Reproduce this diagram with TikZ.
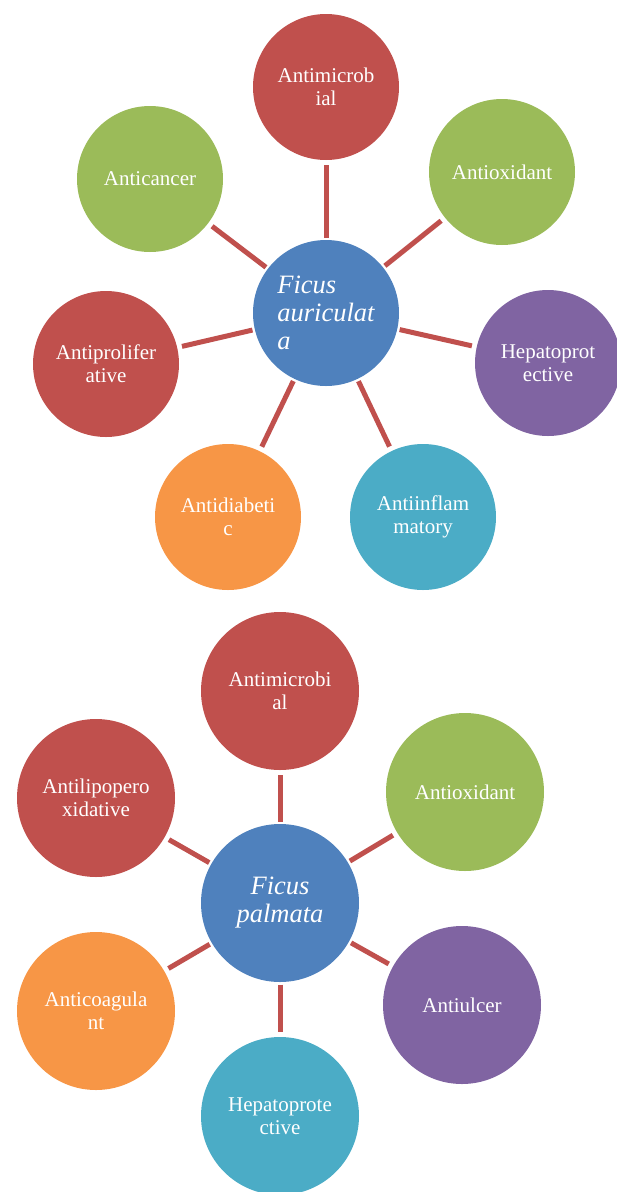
\documentclass[tikz,border=0pt]{standalone}
\usepackage{fontspec}
\setmainfont{Liberation Serif}
\definecolor{cred}{HTML}{C0504D}
\definecolor{cgreen}{HTML}{9BBB59}
\definecolor{cpurple}{HTML}{8064A2}
\definecolor{caqua}{HTML}{4BACC6}
\definecolor{corange}{HTML}{F79646}
\definecolor{cblue}{HTML}{4F81BD}
\tikzset{
  bub/.style={circle,inner sep=0pt,outer sep=0pt,text=white,align=center,
    font=\fontsize{21}{23}\selectfont},
  smallbub/.style={bub,minimum size=146pt},
  bigbub/.style={bub,minimum size=158pt},
  hub/.style={font=\fontsize{26.5}{28}\selectfont\itshape},
  conn/.style={draw=cred,line width=5pt,shorten <=2.5pt,shorten >=5pt}
}
\begin{document}
\begin{tikzpicture}[x=1pt,y=-1pt]
\useasboundingbox (0,0) rectangle (617,1192);
% ---------- top cluster ----------
\node[smallbub,fill=cblue,hub,align=left] (ta) at (326,313) {Ficus\\auriculat\\a};
\node[smallbub,fill=cred] (t1) at (326,87) {Antimicrob\\ial};
\node[smallbub,fill=cgreen] (t2) at (502,172) {Antioxidant};
\node[smallbub,fill=cpurple] (t3) at (548,363) {Hepatoprot\\ective};
\node[smallbub,fill=caqua] (t4) at (423,517) {Antiinflam\\matory};
\node[smallbub,fill=corange] (t5) at (228,517) {Antidiabeti\\c};
\node[smallbub,fill=cred] (t6) at (106,364) {Antiprolifer\\ative};
\node[smallbub,fill=cgreen] (t7) at (150,179) {Anticancer};
\foreach \n in {t1,t2,t3,t4,t5,t6,t7} \draw[conn] (ta) -- (\n);
% ---------- bottom cluster ----------
\node[bigbub,fill=cblue,hub] (pa) at (280,903) {Ficus\\palmata};
\node[bigbub,fill=cred] (p1) at (280,691) {Antimicrobi\\al};
\node[bigbub,fill=cgreen] (p2) at (465,792) {Antioxidant};
\node[bigbub,fill=cpurple] (p3) at (462,1005) {Antiulcer};
\node[bigbub,fill=caqua] (p4) at (280,1116) {Hepatoprote\\ctive};
\node[bigbub,fill=corange] (p5) at (96,1011) {Anticoagula\\nt};
\node[bigbub,fill=cred] (p6) at (96,798) {Antilipopero\\xidative};
\foreach \n in {p1,p2,p3,p4,p5,p6} \draw[conn] (pa) -- (\n);
\end{tikzpicture}
\end{document}
